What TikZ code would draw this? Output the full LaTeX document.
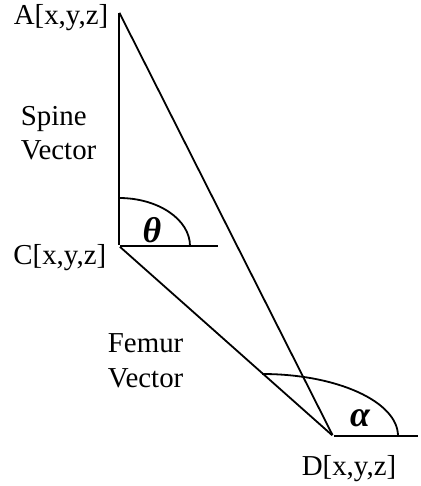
\documentclass[tikz,border=0pt]{standalone}
\usepackage{fontspec}
\setmainfont{Liberation Serif}
\usetikzlibrary{positioning}

\begin{document}
\begin{tikzpicture}
    [x=1bp, y=1bp, line width=1.8bp,
    vertex/.style={inner sep=0pt, minimum size=0pt},
    lbl/.style={inner sep=0pt, font=\fontsize{29}{35}\selectfont},
    vec/.style={lbl, align=left, anchor=north west},
    greek/.style={inner sep=0pt, font=\fontsize{36}{40}\selectfont\bfseries\itshape}]
        \useasboundingbox (0,0) rectangle (420,486);
        \node[vertex] (A) at (119,474) {};
        \node[vertex] (C) at (119,240) {};
        \node[vertex] (D) at (333,50) {};
        \coordinate (Ce) at (218,240);
        \coordinate (De) at (418,50);

        \draw (A) -- (C);
        \draw (A) -- (D);
        \draw (C) -- (D);
        \draw (C) -- (Ce);
        \draw (D) -- (De);

        % angle arcs
        \draw (119,288) arc[start angle=90, end angle=0, x radius=71, y radius=48];
        \draw (262,112) arc[start angle=90, end angle=0, x radius=136, y radius=62];

        \node[lbl, left=9bp of A, anchor=base east, yshift=-13bp] (Al) {A[x,y,z]};
        \node[lbl, left=11bp of C, anchor=base east, yshift=-19bp] (Cl) {C[x,y,z]};
        \node[lbl, below=0bp of D, anchor=base, xshift=16bp, yshift=-39bp] (Dl) {D[x,y,z]};

        \node[vec] (sv) at (20,381) {Spine\\Vector};
        \node[vec] (fv) at (107,153) {Femur\\Vector};

        \node[greek, xshift=33bp, yshift=16bp] (th) at (C) {θ};
        \node[greek, xshift=27bp, yshift=18bp] (al) at (D) {α};
\end{tikzpicture}
\end{document}
